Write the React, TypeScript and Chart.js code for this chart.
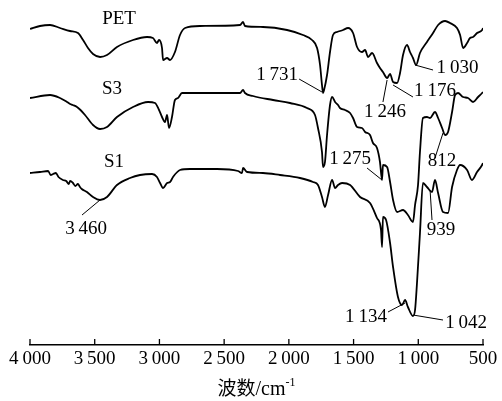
import React, { useEffect, useRef } from 'react';
import { Chart, registerables } from 'chart.js';

Chart.register(...registerables);

// ---- Data (wavenumber in cm^-1, transmittance in arbitrary units, offset per curve) ----
const petWavenumbers = [4000, 3923, 3845, 3768, 3691, 3629, 3590, 3552, 3513, 3459, 3405, 3328, 3204, 3096, 3050, 3019, 3003, 2980, 2972, 2941, 2918, 2880, 2841, 2802, 2686, 2377, 2354, 2339, 2200, 2014, 1891, 1821, 1782, 1759, 1744, 1736, 1728, 1705, 1682, 1659, 1628, 1581, 1543, 1504, 1473, 1435, 1411, 1388, 1357, 1319, 1296, 1273, 1241, 1218, 1195, 1164, 1141, 1118, 1087, 1064, 1041, 1017, 987, 933, 886, 847, 793, 755, 701, 677, 654, 623, 600, 577, 546, 507, 500];
const petValues = [316, 319, 320, 317, 314, 312, 305, 297, 291, 288, 290, 298, 305, 308, 307, 302, 305, 297, 285, 287, 285, 293, 310, 317, 319, 320, 323, 319, 318, 315, 310, 305, 297, 280, 260, 252, 255, 270, 293, 310, 313, 315, 317, 312, 298, 293, 295, 288, 292, 282, 277, 273, 267, 271, 263, 262, 272, 290, 300, 293, 287, 280, 292, 303, 312, 320, 324, 322, 317, 310, 297, 302, 307, 308, 312, 315, 317];

const s3Wavenumbers = [4000, 3845, 3768, 3714, 3690, 3670, 3637, 3610, 3575, 3513, 3459, 3405, 3328, 3204, 3088, 3034, 3003, 2980, 2957, 2941, 2926, 2903, 2880, 2856, 2826, 2764, 2377, 2354, 2339, 2277, 2122, 1991, 1860, 1798, 1775, 1744, 1736, 1721, 1705, 1682, 1666, 1643, 1620, 1605, 1566, 1527, 1504, 1473, 1435, 1411, 1373, 1350, 1319, 1296, 1280, 1273, 1241, 1218, 1195, 1164, 1118, 1080, 1041, 1025, 1002, 987, 964, 933, 909, 871, 847, 816, 793, 770, 739, 716, 693, 654, 616, 577, 538, 507, 500];
const s3Values = [247, 250, 247, 243, 241, 240, 238, 235, 230, 220, 216, 218, 228, 238, 243, 242, 235, 228, 223, 230, 217, 228, 245, 247, 252, 252, 252, 255, 252, 249, 245, 242, 237, 230, 217, 193, 178, 183, 210, 240, 248, 243, 240, 237, 235, 232, 227, 218, 217, 213, 210, 202, 197, 183, 165, 180, 178, 163, 145, 133, 135, 130, 123, 140, 160, 193, 227, 228, 227, 233, 227, 217, 210, 213, 233, 250, 252, 248, 247, 243, 248, 252, 253];

const s1Wavenumbers = [4000, 3923, 3860, 3840, 3822, 3800, 3780, 3745, 3720, 3700, 3690, 3668, 3650, 3630, 3614, 3600, 3560, 3513, 3459, 3405, 3328, 3227, 3150, 3057, 3019, 2995, 2972, 2941, 2918, 2895, 2841, 2764, 2555, 2393, 2362, 2354, 2323, 2200, 2068, 1914, 1813, 1775, 1744, 1721, 1697, 1666, 1643, 1620, 1589, 1527, 1450, 1373, 1319, 1288, 1280, 1273, 1249, 1218, 1195, 1157, 1126, 1102, 1080, 1041, 1025, 1010, 987, 964, 933, 894, 871, 847, 809, 770, 739, 701, 677, 623, 585, 546, 507, 500];
const s1Values = [172, 173, 174, 170, 171, 172, 168, 165, 164, 161, 164, 162, 159, 161, 158, 156, 153, 148, 145, 148, 160, 167, 170, 171, 168, 162, 157, 162, 163, 168, 175, 176, 176, 174, 172, 177, 173, 172, 170, 167, 163, 160, 148, 138, 150, 165, 157, 160, 162, 160, 148, 142, 127, 115, 98, 128, 125, 102, 78, 48, 40, 45, 38, 29, 35, 62, 112, 162, 158, 153, 165, 152, 133, 132, 158, 175, 180, 175, 165, 173, 180, 182];

const seriesNames = ['PET', 'S3', 'S1'];
const xTickValues = [4000, 3500, 3000, 2500, 2000, 1500, 1000, 500];
const xAxisTitle = '波数/cm';
const xAxisTitleSup = '-1';

// Peak labels: text, label position, leader line (data coordinates)
const peakLabels = ['3\u2009460', '1\u2009731', '1\u2009246', '1\u2009176', '1\u2009030', '1\u2009275', '812', '939', '1\u2009134', '1\u2009042'];
const peakLabelPos = [[3567, 116], [2091, 270], [1257, 233], [871, 254], [697, 277], [1527, 186], [816, 184], [824, 115], [1404, 28], [631, 22]];
const peakLeaderFrom = [[3598, 130], [1921, 266], [1273, 243], [1041, 248], [886, 275], [1396, 177], [871, 187], [894, 125], [1234, 33], [809, 25]];
const peakLeaderTo = [[3459, 145], [1744, 253], [1241, 265], [1195, 260], [1025, 280], [1280, 165], [809, 212], [909, 155], [1102, 42], [1041, 30]];
const seriesLabelPos = [[3312, 326], [3366, 256], [3351, 183]];

const SERIF = '"Liberation Serif", "Times New Roman", serif';

function fmtTick(v: number): string {
  if (v >= 1000) {
    const th = Math.floor(v / 1000);
    const rest = String(v % 1000).padStart(3, '0');
    return th + '\u2009' + rest;
  }
  return String(v);
}

const annotationPlugin = {
  id: 'ftirAnnotations',
  afterDraw(chart: any) {
    const { ctx, chartArea } = chart;
    const x = chart.scales.x;
    const y = chart.scales.y;
    ctx.save();
    // inward tick marks
    ctx.strokeStyle = '#000';
    ctx.lineWidth = 1.3;
    x.ticks.forEach((t: any) => {
      const px = x.getPixelForValue(t.value);
      ctx.beginPath();
      ctx.moveTo(px, chartArea.bottom);
      ctx.lineTo(px, chartArea.bottom - 6);
      ctx.stroke();
    });
    // leader lines
    ctx.lineWidth = 1;
    peakLeaderFrom.forEach((f, i) => {
      const t = peakLeaderTo[i];
      ctx.beginPath();
      ctx.moveTo(x.getPixelForValue(f[0]), y.getPixelForValue(f[1]));
      ctx.lineTo(x.getPixelForValue(t[0]), y.getPixelForValue(t[1]));
      ctx.stroke();
    });
    // labels
    ctx.fillStyle = '#000';
    ctx.font = '19px ' + SERIF;
    ctx.textAlign = 'center';
    ctx.textBaseline = 'middle';
    peakLabels.forEach((txt, i) => {
      const p = peakLabelPos[i];
      ctx.fillText(txt, x.getPixelForValue(p[0]), y.getPixelForValue(p[1]));
    });
    seriesNames.forEach((txt, i) => {
      const p = seriesLabelPos[i];
      ctx.fillText(txt, x.getPixelForValue(p[0]), y.getPixelForValue(p[1]));
    });
    // axis title with superscript
    const cx = (chartArea.left + chartArea.right) / 2;
    const base = chart.height - 6;
    const cjkFont = '19px "Noto Sans CJK SC", sans-serif';
    const mainFont = '20px ' + SERIF;
    const supFont = '12px ' + SERIF;
    ctx.textAlign = 'left';
    ctx.textBaseline = 'alphabetic';
    ctx.font = cjkFont;
    const w1 = ctx.measureText('波数').width;
    ctx.font = mainFont;
    const w2 = ctx.measureText('/cm').width;
    ctx.font = supFont;
    const w3 = ctx.measureText(xAxisTitleSup).width;
    let sx = cx - (w1 + w2 + w3) / 2;
    ctx.font = cjkFont;
    ctx.fillText('波数', sx, base);
    sx += w1;
    ctx.font = mainFont;
    ctx.fillText(xAxisTitle.replace('波数', ''), sx, base);
    sx += w2;
    ctx.font = supFont;
    ctx.fillText(xAxisTitleSup, sx, base - 9);
    ctx.restore();
  },
};

export default function App() {
  const canvasRef = useRef<HTMLCanvasElement | null>(null);

  useEffect(() => {
    if (!canvasRef.current) return;
    const mk = (xs: number[], ys: number[]) => xs.map((v, i) => ({ x: v, y: ys[i] }));
    const ds = (label: string, xs: number[], ys: number[]) => ({
      label,
      data: mk(xs, ys),
      borderColor: '#000',
      backgroundColor: '#000',
      borderWidth: 1.8,
      pointRadius: 0,
      cubicInterpolationMode: 'monotone' as const,
      fill: false,
    });
    const chart = new Chart(canvasRef.current, {
      type: 'line',
      data: {
        datasets: [
          ds(seriesNames[0], petWavenumbers, petValues),
          ds(seriesNames[1], s3Wavenumbers, s3Values),
          ds(seriesNames[2], s1Wavenumbers, s1Values),
        ],
      },
      options: {
        animation: false,
        responsive: false,
        devicePixelRatio: 1,
        layout: { padding: { left: 30, right: 19, top: 10, bottom: 0 } },
        plugins: { legend: { display: false }, tooltip: { enabled: false }, title: { display: false } },
        scales: {
          x: {
            type: 'linear',
            reverse: true,
            min: 500,
            max: 4000,
            afterBuildTicks: (scale: any) => {
              scale.ticks = xTickValues.map((v) => ({ value: v }));
            },
            afterFit: (scale: any) => {
              scale.height = 56;
              scale.paddingLeft = 0;
              scale.paddingRight = 0;
            },
            grid: { display: false, drawTicks: false },
            border: { display: true, color: '#000', width: 1.5 },
            ticks: {
              color: '#000',
              font: { family: SERIF, size: 19 },
              padding: 3,
              maxRotation: 0,
              autoSkip: false,
              callback: (v: any) => fmtTick(Number(v)),
            },
          },
          y: {
            type: 'linear',
            display: false,
            min: 0,
            max: 335,
          },
        },
      },
      plugins: [annotationPlugin],
    });
    return () => chart.destroy();
  }, []);

  return (
    <div style={{ position: 'fixed', left: 0, top: 0, width: 502, height: 401, background: '#fff' }}>
      <canvas ref={canvasRef} width={502} height={401} style={{ width: 502, height: 401 }} />
    </div>
  );
}
